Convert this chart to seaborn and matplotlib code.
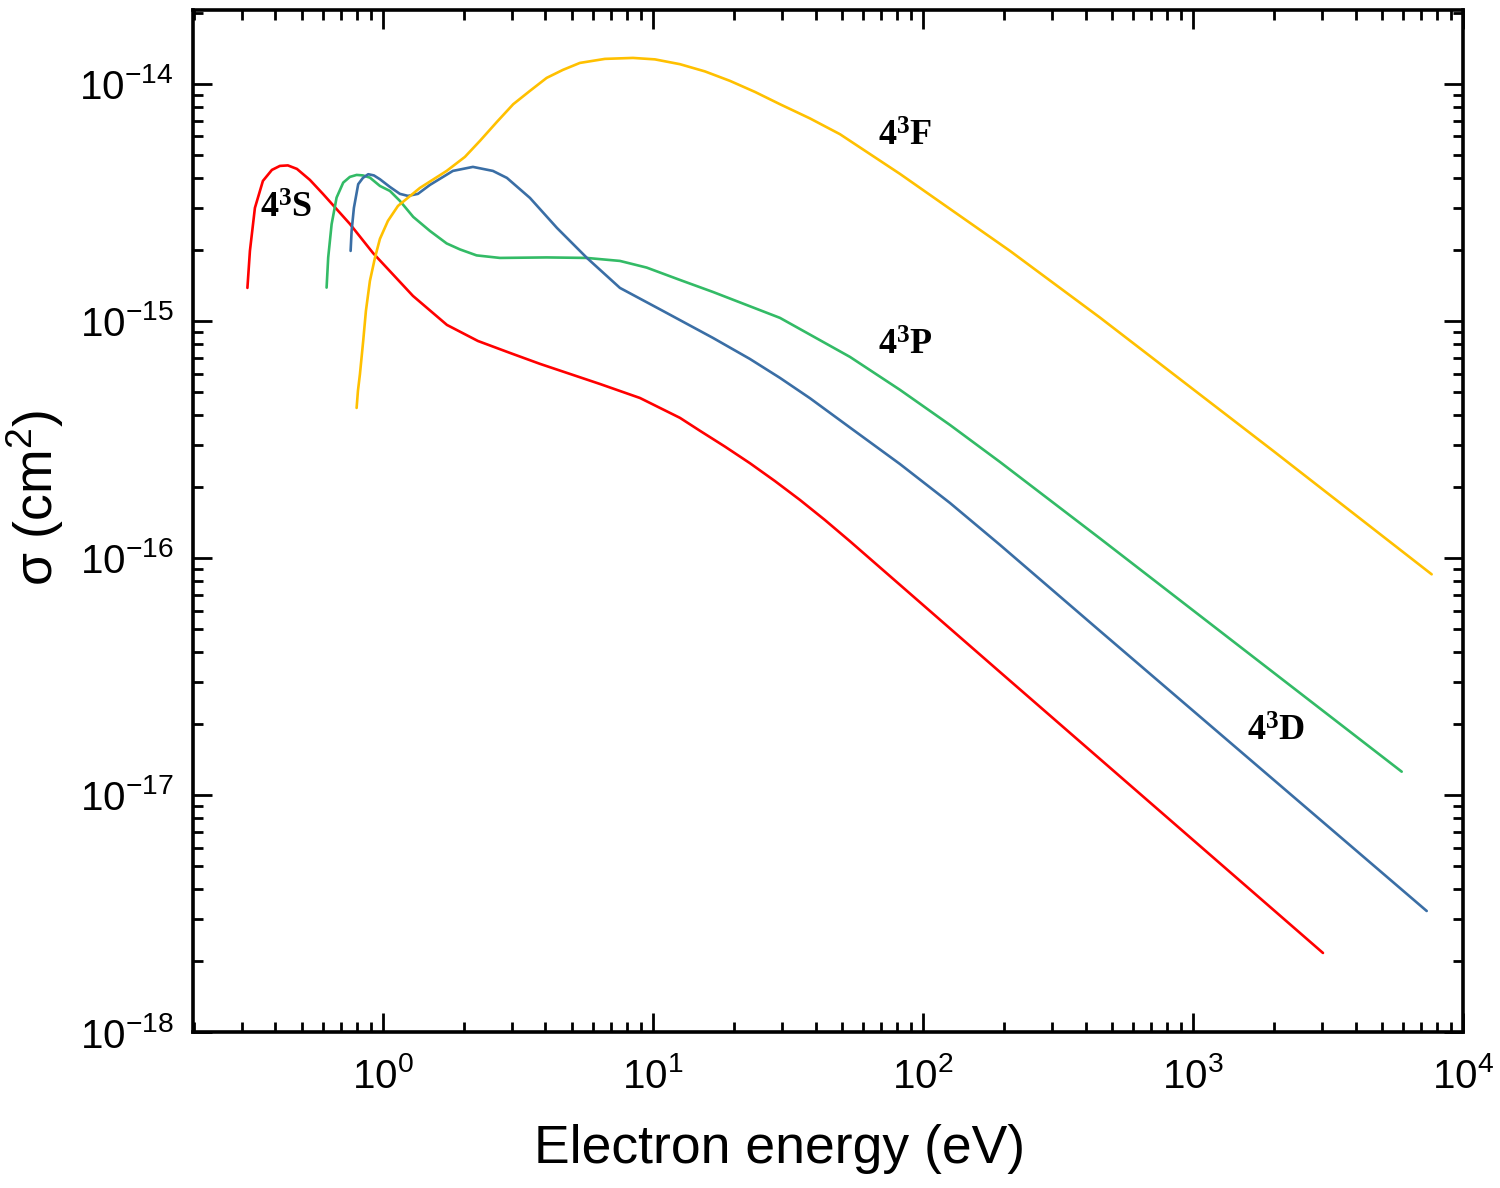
import numpy as np
import pandas as pd
import matplotlib
matplotlib.use("Agg")
import matplotlib.pyplot as plt
import matplotlib.ticker as mticker
import seaborn as sns

# cross sections (energy in eV, sigma in cm^2)
e_4s = [0.3149, 0.3217, 0.3357, 0.3594, 0.388, 0.4155, 0.4446, 0.4803, 0.5365, 0.5995,
        0.7544, 0.9183, 1.292, 1.726, 2.248, 2.953, 3.815, 6.364, 8.953, 12.59, 14.93,
        18.48, 22.87, 28.31, 35.03, 43.36, 53.66, 192.9, 3030]
s_4s = [1.378e-15, 1.974e-15, 2.998e-15, 3.897e-15, 4.336e-15, 4.508e-15, 4.53e-15,
        4.379e-15, 3.935e-15, 3.436e-15, 2.566e-15, 1.936e-15, 1.275e-15, 9.62e-16,
        8.23e-16, 7.33e-16, 6.59e-16, 5.42e-16, 4.73e-16, 3.9e-16, 3.44e-16, 2.95e-16,
        2.51e-16, 2.11e-16, 1.757e-16, 1.445e-16, 1.176e-16, 3.3e-17, 2.155e-18]

e_4p = [0.6186, 0.6271, 0.6457, 0.6736, 0.7128, 0.7544, 0.7991, 0.8432, 0.895, 0.9747,
        1.0615, 1.156, 1.295, 1.493, 1.722, 1.929, 2.223, 2.713, 4.04, 5.681, 7.548,
        9.478, 12.59, 16.68, 29.54, 53.66, 82.19, 125.9, 192.9, 452.4, 5929]
s_4p = [1.382e-15, 1.85e-15, 2.559e-15, 3.313e-15, 3.833e-15, 4.051e-15, 4.13e-15,
        4.11e-15, 4.023e-15, 3.711e-15, 3.535e-15, 3.209e-15, 2.747e-15, 2.397e-15,
        2.123e-15, 2.003e-15, 1.89e-15, 1.844e-15, 1.853e-15, 1.844e-15, 1.791e-15,
        1.679e-15, 1.489e-15, 1.325e-15, 1.03e-15, 7.05e-16, 5.12e-16, 3.64e-16,
        2.54e-16, 1.209e-16, 1.254e-17]

e_4d = [0.7592, 0.7657, 0.7808, 0.81, 0.8432, 0.8823, 0.9261, 0.9747, 1.0615, 1.156,
        1.238, 1.348, 1.493, 1.816, 2.154, 2.555, 2.879, 3.503, 4.411, 5.696, 7.548,
        10.89, 16.68, 22.87, 29.54, 38.15, 53.66, 82.19, 125.9, 192.9, 452.4, 7338]
s_4d = [1.974e-15, 2.397e-15, 2.998e-15, 3.774e-15, 4.012e-15, 4.159e-15, 4.11e-15,
        3.961e-15, 3.675e-15, 3.436e-15, 3.369e-15, 3.436e-15, 3.748e-15, 4.294e-15,
        4.465e-15, 4.294e-15, 4.012e-15, 3.304e-15, 2.468e-15, 1.844e-15, 1.378e-15,
        1.102e-15, 8.48e-16, 6.91e-16, 5.75e-16, 4.72e-16, 3.55e-16, 2.49e-16,
        1.706e-16, 1.135e-16, 4.92e-17, 3.24e-18]

e_4f = [0.7991, 0.8081, 0.822, 0.8452, 0.865, 0.895, 0.9341, 0.9747, 1.0435, 1.137,
        1.371, 1.722, 2.012, 2.287, 2.644, 3.038, 3.503, 4.04, 4.642, 5.364, 6.641,
        8.433, 10.17, 12.59, 15.58, 19.28, 23.87, 29.54, 38.15, 49.27, 82.19, 125.9,
        210.1, 452.4, 1983, 7655]
s_4f = [4.294e-16, 5.065e-16, 5.96e-16, 8.23e-16, 1.102e-15, 1.475e-15, 1.844e-15,
        2.218e-15, 2.642e-15, 3.056e-15, 3.64e-15, 4.294e-15, 4.92e-15, 5.748e-15,
        6.915e-15, 8.209e-15, 9.343e-15, 1.06e-14, 1.146e-14, 1.226e-14, 1.275e-14,
        1.287e-14, 1.269e-14, 1.211e-14, 1.129e-14, 1.03e-14, 9.25e-15, 8.209e-15,
        7.151e-15, 6.135e-15, 4.172e-15, 2.969e-15, 1.974e-15, 1.033e-15, 2.828e-16,
        8.53e-17]

states = ["4S", "4P", "4D", "4F"]
colors = {"4S": "#ff0000", "4P": "#33bb66", "4D": "#3a6ea5", "4F": "#ffc000"}

# curve labels and where they sit (data coords)
label_text = {"4S": r"$\mathbf{4^3S}$", "4P": r"$\mathbf{4^3P}$",
              "4D": r"$\mathbf{4^3D}$", "4F": r"$\mathbf{4^3F}$"}
label_pos = {"4S": (0.44, 3.0e-15), "4P": (86, 7.9e-16),
             "4D": (2030, 1.86e-17), "4F": (86, 6.0e-15)}

frames = []
for name, e, s in [("4S", e_4s, s_4s), ("4P", e_4p, s_4p),
                   ("4D", e_4d, s_4d), ("4F", e_4f, s_4f)]:
    frames.append(pd.DataFrame({"energy": e, "sigma": s, "state": name}))
df = pd.concat(frames, ignore_index=True)

sns.set_style("ticks")
plt.rcParams["font.family"] = ["Liberation Sans", "DejaVu Sans"]
plt.rcParams["mathtext.fontset"] = "custom"
plt.rcParams["mathtext.rm"] = "Liberation Sans"
plt.rcParams["mathtext.bf"] = "Liberation Serif:bold"
plt.rcParams["axes.unicode_minus"] = False
for key in ["text.color", "axes.labelcolor", "xtick.color", "ytick.color", "axes.edgecolor"]:
    plt.rcParams[key] = "black"

fig, ax = plt.subplots(figsize=(15, 11.88), dpi=100)
fig.subplots_adjust(left=193/1500, right=1463/1500, bottom=1-1032/1188, top=1-10/1188)
ax.set_xscale("log")
ax.set_yscale("log")

sns.lineplot(data=df, x="energy", y="sigma", hue="state", hue_order=states,
             palette=colors, units="state", estimator=None, sort=False,
             linewidth=1.9, legend=False, ax=ax)

ax.set_xlim(0.198, 1e4)
ax.set_ylim(1e-18, 2.05e-14)

for st in states:
    x, y = label_pos[st]
    ax.text(x, y, label_text[st], fontsize=26, ha="center", va="center", color="black")

ax.xaxis.set_major_locator(mticker.FixedLocator([1, 10, 100, 1000, 10000]))
ax.yaxis.set_major_locator(mticker.FixedLocator([1e-18, 1e-17, 1e-16, 1e-15, 1e-14]))
ax.xaxis.set_major_formatter(mticker.LogFormatterSciNotation())
ax.yaxis.set_major_formatter(mticker.LogFormatterSciNotation())
ax.xaxis.set_minor_locator(mticker.LogLocator(base=10, subs=np.arange(2, 10), numticks=20))
ax.yaxis.set_minor_locator(mticker.LogLocator(base=10, subs=np.arange(2, 10), numticks=20))
ax.xaxis.set_minor_formatter(mticker.NullFormatter())
ax.yaxis.set_minor_formatter(mticker.NullFormatter())

ax.tick_params(which="both", direction="in", top=True, right=True, width=2, color="black")
ax.tick_params(which="major", length=14, labelsize=29)
ax.tick_params(which="minor", length=7)
ax.tick_params(axis="x", which="major", pad=18)
ax.tick_params(axis="y", which="major", pad=14)
for sp in ax.spines.values():
    sp.set_linewidth(2.6)
    sp.set_color("black")

ax.set_xlabel("Electron energy (eV)", fontsize=38.5)
ax.set_ylabel(r"σ (cm$^2$)", fontsize=38.5)
ax.xaxis.set_label_coords(0.462, -0.09)
ax.yaxis.set_label_coords(-0.10, 0.5225)

plt.savefig("out.png", dpi=100)
